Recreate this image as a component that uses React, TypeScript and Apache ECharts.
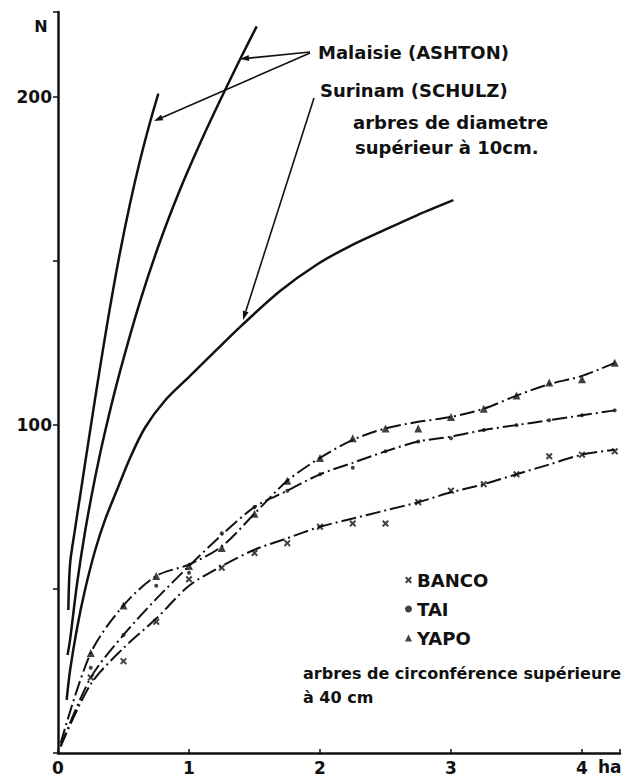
import React, { useEffect, useRef } from "react";
import * as echarts from "echarts";

// ---- data ----
const sampleArea = [0.25, 0.5, 0.75, 1, 1.25, 1.5, 1.75, 2, 2.25, 2.5, 2.75, 3, 3.25, 3.5, 3.75, 4, 4.25];
const bancoPoints = [23, 28, 40, 53, 56.5, 61, 64, 69, 70, 70, 76.5, 80, 82, 85, 90.5, 91, 92];
const taiPoints = [26, 36, 51, 55, 67, 75, 80, 85, 87, 92, 95, 96, 98.5, 100, 101.5, 103, 104.5];
const yapoPoints = [30.5, 45, 54, 57, 62.5, 73, 83, 90, 96, 99, 99, 102.5, 105, 109, 113, 114, 119];

const bancoCurve = [[0.02, 2], [0.25, 21], [0.5, 32], [0.75, 41], [1, 51], [1.25, 57], [1.5, 62], [1.75, 65.5], [2, 69], [2.25, 71.5], [2.5, 74], [2.75, 76.5], [3, 79.5], [3.25, 82], [3.5, 85], [3.75, 88], [4, 91], [4.25, 92.5]];
const taiCurve = [[0.02, 2], [0.25, 23], [0.5, 36], [0.75, 47], [1, 57], [1.25, 66.5], [1.5, 75], [1.75, 80], [2, 85], [2.25, 88.5], [2.5, 92], [2.75, 95], [3, 96.5], [3.25, 98.5], [3.5, 100], [3.75, 101.5], [4, 103], [4.25, 104.5]];
const yapoCurve = [[0.02, 3], [0.25, 30.5], [0.5, 45], [0.75, 54], [1, 57.5], [1.25, 63], [1.5, 73], [1.75, 83], [2, 90], [2.25, 95.5], [2.5, 99], [2.75, 101], [3, 102.5], [3.25, 105], [3.5, 109], [3.75, 112.5], [4, 115], [4.25, 119]];

const malaisie1 = [[0.079, 43.6], [0.092, 57.6], [0.13, 68.3], [0.168, 78.2], [0.244, 98], [0.321, 117.6], [0.397, 135.9], [0.473, 152.6], [0.55, 167.6], [0.626, 180.7], [0.702, 192.3], [0.766, 201.1]];
const malaisie2 = [[0.073, 29.9], [0.092, 34.5], [0.145, 51.5], [0.206, 67.4], [0.282, 83.7], [0.359, 98], [0.473, 116.3], [0.626, 137.7], [0.779, 156], [0.931, 171.8], [1.084, 185.9], [1.237, 199], [1.389, 211.5], [1.517, 221.6]];
const surinam = [[0.066, 16.2], [0.092, 25.2], [0.145, 38], [0.206, 49.7], [0.282, 61.6], [0.359, 71.1], [0.45, 80.2], [0.55, 90], [0.664, 99.2], [0.817, 107.5], [1.008, 115], [1.198, 122.5], [1.405, 130.5], [1.695, 140.9], [1.977, 149], [2.229, 154.6], [2.481, 159.3], [2.74, 164], [3.018, 168.6]];

const yLabelled = [100, 200];
const xTickLabels = ["0", "1", "2", "3", "4"];

const INK = "#111";
const FONT = "DejaVu Sans";
const crossPath = "path://M0,2L2,0L5,3L8,0L10,2L7,5L10,8L8,10L5,7L2,10L0,8L3,5Z";

function arrow(x1: number, y1: number, x2: number, y2: number) {
  const ang = Math.atan2(y2 - y1, x2 - x1);
  const L = 9, W = 3;
  const bx = x2 - L * Math.cos(ang), by = y2 - L * Math.sin(ang);
  const px = -Math.sin(ang) * W, py = Math.cos(ang) * W;
  return [
    { type: "polyline", shape: { points: [[x1, y1], [bx, by]] }, style: { stroke: INK, lineWidth: 1.6, fill: null } },
    { type: "polygon", shape: { points: [[x2, y2], [bx + px, by + py], [bx - px, by - py]] }, style: { fill: INK } },
  ];
}

function text(t: string, x: number, y: number, size: number, align = "left") {
  return {
    type: "text",
    x, y,
    style: { text: t, fill: INK, font: `bold ${size}px "${FONT}"`, textAlign: align, textVerticalAlign: "middle" },
  };
}

export default function App() {
  const ref = useRef<HTMLDivElement>(null);
  useEffect(() => {
    if (!ref.current) return;
    const chart = echarts.init(ref.current, null, { renderer: "svg" });
    const dashed = (name: string, data: number[][]) => ({
      name, type: "line", data, smooth: 0.3, showSymbol: false, silent: true,
      lineStyle: { color: INK, width: 2, type: [15, 4, 2, 4] },
    });
    const solid = (name: string, data: number[][]) => ({
      name, type: "line", data, smooth: 0.3, showSymbol: false, silent: true,
      lineStyle: { color: INK, width: 2.5 },
    });
    chart.setOption({
      animation: false,
      backgroundColor: "#fff",
      grid: { left: 58, right: 15, top: 12, bottom: 25 },
      xAxis: {
        type: "value", min: 0, max: 4.29, interval: 1,
        axisLine: { lineStyle: { color: INK, width: 2.5 } },
        axisTick: { show: true, inside: true, length: 4, lineStyle: { color: INK, width: 1.5 } },
        splitLine: { show: false },
        axisLabel: {
          color: INK, fontFamily: FONT, fontSize: 17, fontWeight: "bold", margin: 6,
          formatter: (v: number) => (Number.isInteger(v) && v <= 4 ? xTickLabels[v] : ""),
        },
      },
      yAxis: {
        type: "value", min: 0, max: 226, interval: 50,
        axisLine: { show: true, lineStyle: { color: INK, width: 2.5 } },
        axisTick: { show: true, length: 5, lineStyle: { color: INK, width: 1.5 } },
        splitLine: { show: false },
        axisLabel: {
          color: INK, fontFamily: FONT, fontSize: 17, fontWeight: "bold", margin: 6,
          formatter: (v: number) => (yLabelled.includes(v) ? String(v) : ""),
        },
      },
      legend: {
        orient: "vertical", left: 405, top: 571, padding: 0, itemGap: 11,
        itemWidth: 7, itemHeight: 7,
        textStyle: { color: INK, fontFamily: FONT, fontSize: 18, fontWeight: "bold" },
        data: [
          { name: "BANCO", icon: crossPath },
          { name: "TAI", icon: "circle" },
          { name: "YAPO", icon: "triangle" },
        ],
      },
      series: [
        solid("Malaisie (ASHTON) 1", malaisie1),
        solid("Malaisie (ASHTON) 2", malaisie2),
        solid("Surinam (SCHULZ)", surinam),
        dashed("BANCO courbe", bancoCurve),
        dashed("TAI courbe", taiCurve),
        dashed("YAPO courbe", yapoCurve),
        { name: "BANCO", type: "scatter", symbol: crossPath, symbolSize: 7, itemStyle: { color: INK },
          data: sampleArea.map((x, i) => [x, bancoPoints[i]]) },
        { name: "TAI", type: "scatter", symbol: "circle", symbolSize: 4, itemStyle: { color: INK },
          data: sampleArea.map((x, i) => [x, taiPoints[i]]) },
        { name: "YAPO", type: "scatter", symbol: "triangle", symbolSize: 8, itemStyle: { color: INK },
          data: sampleArea.map((x, i) => [x, yapoPoints[i]]) },
      ],
      graphic: [
        text("N", 41, 26, 16, "center"),
        text("ha", 598, 767, 17),
        text("Malaisie (ASHTON)", 318, 52, 18),
        text("Surinam (SCHULZ)", 320, 90, 18),
        text("arbres de diametre", 353, 122, 18),
        text("supérieur à 10cm.", 355, 147, 18),
        text("arbres de circonférence supérieure", 303, 673, 16),
        text("à 40 cm", 303, 697, 16),
        ...arrow(310, 52, 240, 59),
        ...arrow(310, 53, 154, 121),
        ...arrow(314, 98, 243, 320),
      ],
    });
    return () => chart.dispose();
  }, []);
  return <div ref={ref} style={{ position: "absolute", left: 0, top: 0, width: 635, height: 778 }} />;
}
